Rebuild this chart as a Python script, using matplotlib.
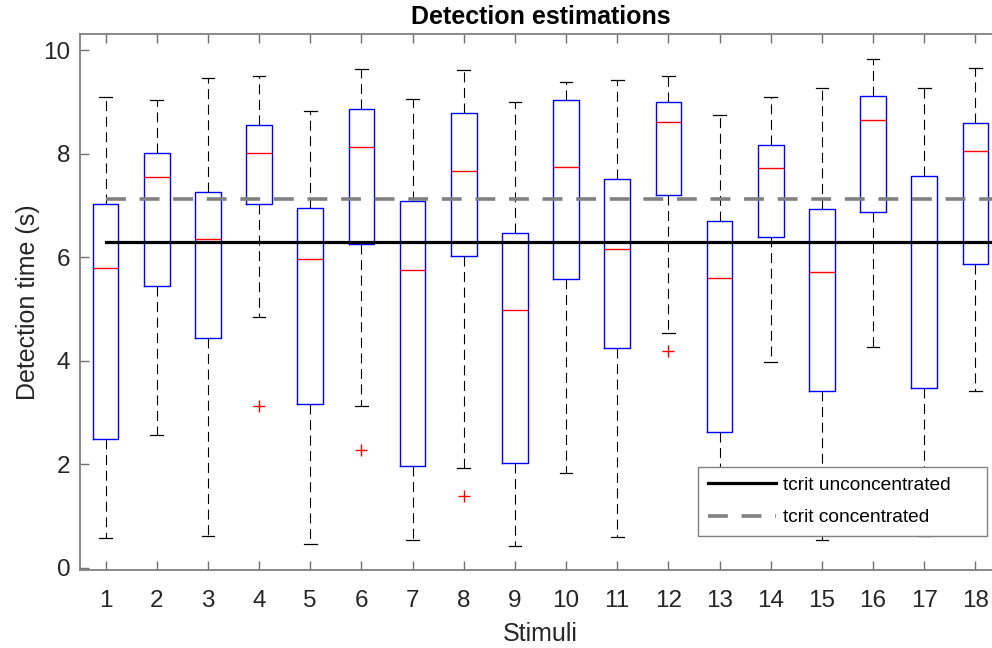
import matplotlib
matplotlib.use("Agg")
import matplotlib.pyplot as plt

# ─────────── Datos ───────────
stimuli  = list(range(1, 19))
whislo   = [0.57, 2.56, 0.62, 4.85, 0.46, 3.13, 0.53, 1.93, 0.42,
            1.84, 0.60, 4.53, 1.00, 3.98, 0.54, 4.27, 0.61, 3.42]
q1       = [2.49, 5.44, 4.44, 7.03, 3.17, 6.25, 1.96, 6.02, 2.02,
            5.57, 4.24, 7.20, 2.63, 6.39, 3.42, 6.87, 3.47, 5.86]
medians  = [5.80, 7.55, 6.35, 8.01, 5.96, 8.12, 5.75, 7.67, 4.98,
            7.75, 6.15, 8.61, 5.60, 7.72, 5.72, 8.64, 6.29, 8.06]
q3       = [7.02, 8.01, 7.25, 8.56, 6.95, 8.87, 7.09, 8.78, 6.47,
            9.03, 7.51, 8.99, 6.69, 8.16, 6.94, 9.12, 7.56, 8.59]
whishi   = [9.09, 9.03, 9.46, 9.49, 8.83, 9.63, 9.06, 9.61, 8.99,
            9.39, 9.42, 9.49, 8.75, 9.10, 9.26, 9.83, 9.26, 9.65]
outliers = [[], [], [], [3.13], [], [2.27], [], [1.39], [],
            [], [], [4.18], [], [], [], [], [], []]

tcrit_unconc = 6.29
tcrit_conc   = 7.13

# ─────────── Figura ───────────
plt.rcParams["font.family"] = ["Liberation Sans", "DejaVu Sans"]
fig = plt.figure(figsize=(9.92, 6.48), dpi=100)
ax = fig.add_axes([80/992, 78/648, 921/992, 536/648])

stats = [dict(whislo=a, q1=b, med=c, q3=d, whishi=e, fliers=f)
         for a, b, c, d, e, f in zip(whislo, q1, medians, q3, whishi, outliers)]

ax.bxp(stats, positions=stimuli, widths=0.5, capwidths=0.25,
       boxprops=dict(color="#0000ff", lw=1.0),
       medianprops=dict(color="#ff0000", lw=1.0),
       whiskerprops=dict(color="black", lw=0.8, linestyle=(0, (9, 5))),
       capprops=dict(color="black", lw=0.9),
       flierprops=dict(marker="+", markeredgecolor="#ff0000",
                       markersize=9, markeredgewidth=1.0, linestyle="none"),
       manage_ticks=False)

ax.axhline(tcrit_unconc, color="black", lw=2.3, label="tcrit unconcentrated",
           xmin=0.5/18, xmax=1.0, zorder=4)
ax.axhline(tcrit_conc, color="#808080", lw=2.6, linestyle=(0, (5.5, 3.8)),
           label="tcrit concentrated", xmin=0.5/18, xmax=1.0, zorder=4)

ax.set_xlim(0.5, 18.5)
ax.set_ylim(-0.04, 10.31)
ax.set_xticks(stimuli)
ax.set_yticks([0, 2, 4, 6, 8, 10])

ax.tick_params(direction="in", top=True, right=True, length=6.5,
               width=1.0, color="#707070", labelsize=17.5,
               labelcolor="#262626")
ax.tick_params(axis="x", pad=14.5)
ax.tick_params(axis="y", pad=7)
for s in ax.spines.values():
    s.set_color("#808080")
    s.set_linewidth(1.3)

ax.set_title("Detection estimations", fontsize=18, fontweight="bold", pad=7)
ax.set_xlabel("Stimuli", fontsize=18, color="#262626", labelpad=7)
ax.set_ylabel("Detection time (s)", fontsize=18, color="#262626", labelpad=2)

# leyenda con espacio extra a la derecha (estilo MATLAB)
leg = ax.legend(loc="lower left", bbox_to_anchor=(0.671, 0.0634, 0.3138, 0.13),
                mode="expand", fontsize=13.8, handlelength=3.55,
                handletextpad=0.4, fancybox=False, framealpha=1,
                edgecolor="#808080", borderpad=0.5, labelspacing=0.8,
                borderaxespad=0)
leg.get_frame().set_linewidth(1.0)

fig.savefig("out.png", dpi=100)
